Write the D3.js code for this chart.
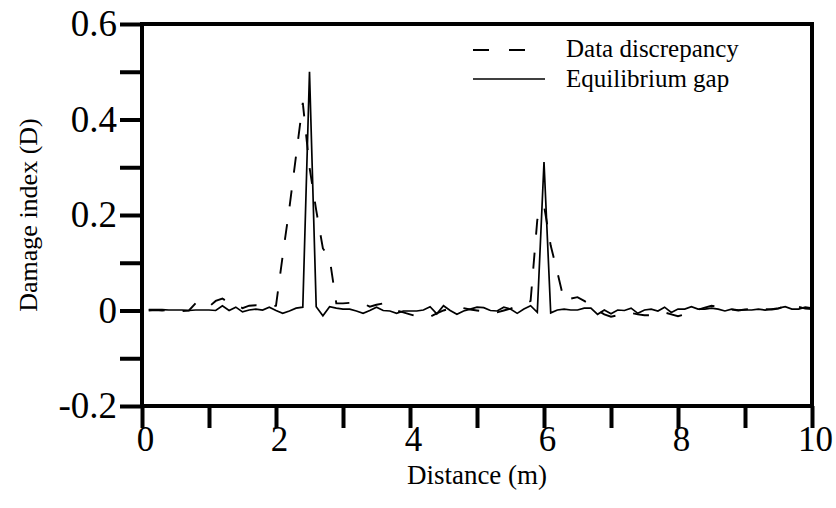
<!DOCTYPE html>
<html><head><meta charset="utf-8">
<script src="https://cdn.jsdelivr.net/npm/d3@7"></script>
<style>
html,body{margin:0;padding:0;background:#fff;}
svg{display:block;}
text{font-family:"Liberation Serif","Times New Roman",serif;fill:#000;}
</style></head>
<body>
<svg id="chart" width="836" height="508"></svg>
<script>
const distance = [0.1,0.2,0.3,0.4,0.5,0.6,0.7,0.8,0.9,1.0,
1.1,1.2,1.3,1.4,1.5,1.6,1.7,1.8,1.9,2.0,
2.1,2.2,2.3,2.4,2.5,2.6,2.7,2.8,2.9,3.0,
3.1,3.2,3.3,3.4,3.5,3.6,3.7,3.8,3.9,4.0,
4.1,4.2,4.3,4.4,4.5,4.6,4.7,4.8,4.9,5.0,
5.1,5.2,5.3,5.4,5.5,5.6,5.7,5.8,5.9,6.0,
6.1,6.2,6.3,6.4,6.5,6.6,6.7,6.8,6.9,7.0,
7.1,7.2,7.3,7.4,7.5,7.6,7.7,7.8,7.9,8.0,
8.1,8.2,8.3,8.4,8.5,8.6,8.7,8.8,8.9,9.0,
9.1,9.2,9.3,9.4,9.5,9.6,9.7,9.8,9.9,10.0];

const equilibriumGap = [0.002,0.002,0.002,0.001,0.001,0.001,0.000,0.001,0.001,0.001,
0.000,0.010,0.000,0.007,-0.003,0.001,0.003,0.001,0.007,0.000,
-0.006,-0.001,0.005,0.007,0.500,0.008,-0.011,0.008,0.005,0.003,
0.003,-0.001,-0.006,0.000,0.007,0.000,-0.001,-0.006,-0.001,-0.001,
-0.001,0.001,0.008,-0.007,0.010,0.000,-0.008,-0.001,0.003,0.007,
0.006,0.000,-0.001,0.007,0.003,-0.006,0.003,0.010,-0.004,0.311,
-0.005,0.001,0.003,0.001,0.001,0.005,0.005,-0.008,0.001,-0.007,
0.001,0.000,0.005,-0.006,0.001,0.003,-0.001,0.007,-0.004,0.003,
0.003,0.008,0.003,0.003,0.005,0.003,-0.001,0.003,0.001,0.001,
0.001,0.003,0.001,0.003,0.005,0.008,0.003,0.003,0.007,0.005];

const dataDiscrepancy = [0.000,0.001,0.000,0.001,0.000,-0.001,0.000,0.015,0.018,0.008,
0.020,0.025,0.016,0.012,0.005,0.010,0.011,0.010,0.008,0.010,
0.115,0.215,0.325,0.435,0.300,0.210,0.130,0.110,0.015,0.015,
0.016,0.016,0.015,0.008,0.012,0.015,0.006,0.000,-0.004,-0.008,
-0.012,-0.013,-0.013,-0.006,0.000,0.004,0.008,0.005,0.002,0.000,
-0.002,-0.003,-0.004,0.000,0.004,0.009,0.013,0.020,0.190,0.220,
0.136,0.080,0.020,0.025,0.028,0.020,0.012,0.000,-0.008,-0.013,
-0.010,-0.008,-0.005,-0.008,-0.010,-0.010,-0.008,-0.004,-0.008,-0.012,
-0.008,-0.003,0.002,0.006,0.010,0.008,0.005,0.002,0.000,0.002,
0.004,0.005,0.003,0.002,0.004,0.010,0.008,0.008,0.004,0.003];

const xTicks = [0,1,2,3,4,5,6,7,8,9,10];
const xTickLabels = ["0","","2","","4","","6","","8","","10"];
const yTicks = [-0.2,-0.1,0,0.1,0.2,0.3,0.4,0.5,0.6];
const yTickLabels = ["-0.2","","0","","0.2","","0.4","","0.6"];
const seriesNames = ["Data discrepancy","Equilibrium gap"];
const xTitle = "Distance (m)";
const yTitle = "Damage index (D)";

const svg = d3.select("#chart");
const L = 142, R = 812, T = 24, B = 406;
const x = d3.scaleLinear().domain([0,10]).range([L,R]);
const y = d3.scaleLinear().domain([-0.2,0.6]).range([B,T]);

// axes
const xAxis = d3.axisBottom(x).tickValues(xTicks)
  .tickFormat((d,i)=>xTickLabels[i]).tickSize(22).tickSizeOuter(0);
const gx = svg.append("g").attr("transform",`translate(0,${B})`).call(xAxis);
gx.select(".domain").remove();
gx.selectAll(".tick line").attr("stroke","#000").attr("stroke-width",4);
gx.selectAll(".tick text").attr("font-size",35).attr("y",45).attr("dy",0).attr("x",3)
  .style("font-family",'"Liberation Serif",serif');

const yAxis = d3.axisLeft(y).tickValues(yTicks)
  .tickFormat((d,i)=>yTickLabels[i]).tickSize(22).tickSizeOuter(0).tickPadding(3);
const gy = svg.append("g").attr("transform",`translate(${L},0)`).call(yAxis);
gy.select(".domain").remove();
gy.selectAll(".tick line").attr("stroke","#000").attr("stroke-width",4);
gy.selectAll(".tick text").attr("font-size",37).style("font-family",'"Liberation Serif",serif');

// lines
const line = (vals) => d3.line().x((d,i)=>x(distance[i])).y(d=>y(d))(vals);
svg.append("path").attr("d",line(dataDiscrepancy)).attr("fill","none")
  .attr("stroke","#000").attr("stroke-width",1.9).attr("stroke-dasharray","16,18");
svg.append("path").attr("d",line(equilibriumGap)).attr("fill","none")
  .attr("stroke","#000").attr("stroke-width",1.7).attr("stroke-linejoin","miter");

// frame
svg.append("rect").attr("x",L).attr("y",T).attr("width",R-L).attr("height",B-T)
  .attr("fill","none").attr("stroke","#000").attr("stroke-width",4);

// legend
const lg = svg.append("g");
lg.append("line").attr("x1",473).attr("x2",525).attr("y1",50).attr("y2",50)
  .attr("stroke","#000").attr("stroke-width",1.9).attr("stroke-dasharray","16,20");
lg.append("text").attr("x",566).attr("y",57).attr("font-size",25).text(seriesNames[0]);
lg.append("line").attr("x1",473).attr("x2",545).attr("y1",79).attr("y2",79)
  .attr("stroke","#000").attr("stroke-width",1.7);
lg.append("text").attr("x",566).attr("y",87).attr("font-size",25).text(seriesNames[1]);

// titles
svg.append("text").attr("x",477).attr("y",484).attr("text-anchor","middle")
  .attr("font-size",27).text(xTitle);
svg.append("text").attr("transform","translate(37,215) rotate(-90)")
  .attr("text-anchor","middle").attr("font-size",26).text(yTitle);
</script>
</body></html>
